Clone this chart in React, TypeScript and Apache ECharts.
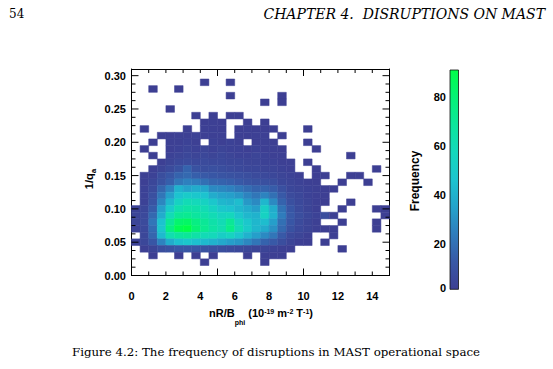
import { useEffect, useRef } from 'react';
import * as echarts from 'echarts';

// ---- bins ----
const X_BIN = 0.5;
const Y_BIN = 0.01;
const X_RANGE = [0, 15];
const Y_RANGE = [0, 0.31];
const xBinCentres = [
  0.25, 0.75, 1.25, 1.75, 2.25, 2.75, 3.25, 3.75, 4.25, 4.75,
  5.25, 5.75, 6.25, 6.75, 7.25, 7.75, 8.25, 8.75, 9.25, 9.75,
  10.25, 10.75, 11.25, 11.75, 12.25, 12.75, 13.25, 13.75, 14.25, 14.75,
];
const yBinCentres = [
  0.29, 0.28, 0.27, 0.26, 0.25, 0.24, 0.23, 0.22, 0.21, 0.2,
  0.19, 0.18, 0.17, 0.16, 0.15, 0.14, 0.13, 0.12, 0.11, 0.1,
  0.09, 0.08, 0.07, 0.06, 0.05, 0.04, 0.03, 0.02,
];

// ---- frequency per (y row, x bin); one row per entry of yBinCentres ----
const frequency: number[][] = [
  [0,0,0,0,0,0,0,0,1,0, 0,1,0,0,0,0,0,0,0,0, 0,0,0,0,0,0,0,0,0,0], // 0.29
  [0,0,1,0,0,1,0,0,0,0, 0,0,0,0,0,0,0,0,0,0, 0,0,0,0,0,0,0,0,0,0], // 0.28
  [0,0,0,0,0,0,0,0,0,0, 0,1,0,0,0,0,0,1,0,0, 0,0,0,0,0,0,0,0,0,0], // 0.27
  [0,0,0,0,0,0,0,0,0,0, 0,0,0,0,0,1,0,1,0,0, 0,0,0,0,0,0,0,0,0,0], // 0.26
  [0,0,0,0,1,0,0,0,0,0, 0,0,0,0,0,0,0,0,0,0, 0,0,0,0,0,0,0,0,0,0], // 0.25
  [0,0,0,0,0,0,0,1,0,1, 0,1,1,0,0,0,0,0,0,0, 0,0,0,0,0,0,0,0,0,0], // 0.24
  [0,0,0,0,0,0,0,0,1,2, 1,0,0,1,0,1,0,0,0,0, 0,0,0,0,0,0,0,0,0,0], // 0.23
  [0,1,0,0,0,0,1,0,2,2, 1,0,1,2,1,1,1,0,0,0, 1,0,0,0,0,0,0,0,0,0], // 0.22
  [0,0,0,1,1,2,2,3,2,2, 2,0,2,1,2,2,0,1,0,0, 0,0,0,0,0,0,0,0,0,0], // 0.21
  [0,0,1,0,2,2,3,2,0,3, 2,3,2,0,1,2,1,0,0,0, 1,0,0,0,0,0,0,0,0,0], // 0.20
  [0,1,0,0,2,3,4,3,4,3, 4,3,3,2,3,2,2,1,0,0, 0,1,0,0,0,0,0,0,0,0], // 0.19
  [0,0,1,0,3,4,5,4,5,4, 5,4,3,3,4,3,2,2,0,0, 0,0,0,0,0,1,0,0,0,0], // 0.18
  [0,0,0,2,4,6,7,6,7,6, 6,5,5,4,4,3,3,2,2,0, 1,0,0,0,0,0,0,0,0,0], // 0.17
  [0,0,2,4,7,10,16,10,8,9, 8,7,6,5,5,4,4,3,2,0, 0,1,0,0,0,0,0,0,1,0], // 0.16
  [0,2,3,8,12,16,18,15,13,12, 11,10,9,8,7,6,5,4,3,2, 0,1,1,0,0,1,1,0,0,0], // 0.15
  [0,2,5,10,15,22,25,24,20,17, 16,15,13,11,10,9,8,5,4,3, 2,1,0,0,1,0,0,1,0,0], // 0.14
  [0,3,7,17,26,40,35,38,36,28, 27,25,22,19,16,16,14,9,5,4, 3,2,1,1,0,0,0,0,0,0], // 0.13
  [0,3,9,22,34,46,50,48,46,38, 35,34,31,26,22,26,20,13,7,5, 3,2,1,0,0,0,0,0,0,0], // 0.12
  [0,3,11,27,42,54,60,58,54,48, 42,40,44,32,28,42,28,16,9,6, 4,2,1,0,0,1,0,0,0,0], // 0.11
  [3,5,14,34,50,62,66,64,60,54, 48,46,42,38,34,52,38,21,12,7, 4,2,0,0,1,0,0,0,1,1], // 0.10
  [4,6,18,38,60,70,72,68,64,60, 55,57,48,42,40,54,40,24,13,8, 5,3,8,2,0,0,0,0,0,1], // 0.09
  [4,7,22,46,70,82,84,76,70,64, 60,70,56,48,42,44,34,20,12,7, 4,2,0,0,1,0,0,0,1,0], // 0.08
  [3,6,19,48,76,88,91,80,72,66, 62,74,60,50,42,38,30,18,10,6, 4,2,1,1,0,0,0,0,1,0], // 0.07
  [0,5,17,43,62,68,70,65,60,58, 52,55,48,40,34,28,22,13,6,4, 2,0,0,1,0,0,0,0,0,0], // 0.06
  [3,5,12,26,38,45,48,45,43,40, 37,34,32,27,22,16,13,8,4,2, 1,0,1,0,0,0,0,0,0,0], // 0.05
  [0,2,4,8,10,12,12,12,10,9, 8,7,6,5,4,4,3,2,1,0, 0,0,0,0,1,0,0,0,0,0], // 0.04
  [0,0,1,0,0,1,0,1,0,1, 0,0,0,1,0,2,1,1,0,0, 0,0,0,0,0,0,0,0,0,0], // 0.03
  [0,0,0,0,0,0,0,0,1,0, 0,0,0,0,0,1,0,0,0,0, 0,0,0,0,0,0,0,0,0,0], // 0.02
];

// ---- ticks / labels ----
const xTickLabels = ['0', '2', '4', '6', '8', '10', '12', '14'];
const yTickLabels = ['0.00', '0.05', '0.10', '0.15', '0.20', '0.25', '0.30'];
const colorbarTickLabels = ['0', '20', '40', '60', '80'];
const xMajorTicks = [0, 5, 10, 15];
const xMinorTicks = [1, 2, 3, 4, 6, 7, 8, 9, 11, 12, 13, 14];
const yMajorTicks = [0, 0.05, 0.1, 0.15, 0.2, 0.25, 0.3];
const yMinorTicks = [
  0.0125, 0.025, 0.0375, 0.0625, 0.075, 0.0875, 0.1125, 0.125, 0.1375,
  0.1625, 0.175, 0.1875, 0.2125, 0.225, 0.2375, 0.2625, 0.275, 0.2875,
];
const colourRange = [1.5, 91];
const colourMap = [
  '#3d3f93', '#3858a6', '#2f7cbc', '#24a3cb', '#1cc4cf',
  '#14d8bc', '#0ce69c', '#05f276', '#00ff48',
];

const SANS = '"Liberation Sans", Arial, Helvetica, sans-serif';
const SERIF = '"DejaVu Serif", "Liberation Serif", serif';

const base = { fontWeight: 'bold', fontFamily: SANS, color: '#000', verticalAlign: 'middle' };
const richStyles = {
  m: { ...base, fontSize: 11 },
  sup: { ...base, fontSize: 7, padding: [0, 0, 4, 0] },
  sub: { ...base, fontSize: 7, padding: [18, 0, 0, 0] },
  suba: { ...base, fontSize: 8, padding: [8, 0, 0, 0] },
};

const lineAxis = (pos: string, min: number, max: number, interval: number, extra: any = {}) => ({
  type: 'value', gridIndex: 0, position: pos, min, max, interval,
  axisLine: { show: true, onZero: false, lineStyle: { color: '#000', width: 1 } },
  axisTick: { show: false },
  axisLabel: { show: false },
  splitLine: { show: false },
  ...extra,
});

export default function App() {
  const ref = useRef<HTMLDivElement>(null);
  useEffect(() => {
    if (!ref.current) return;
    const chart = echarts.init(ref.current, undefined, { renderer: 'svg' });

    const cells: number[][] = [];
    frequency.forEach((row, r) => {
      row.forEach((v, c) => {
        if (v > 0) cells.push([xBinCentres[c], yBinCentres[r], v]);
      });
    });
    // tick marks: [kind, value]; kind 0 x-major, 1 x-minor, 2 y-major, 3 y-minor
    const ticks: number[][] = [
      ...xMajorTicks.map((v) => [0, v]),
      ...xMinorTicks.map((v) => [1, v]),
      ...yMajorTicks.map((v) => [2, v]),
      ...yMinorTicks.map((v) => [3, v]),
    ];
    const tickLen = [7, 4, 7, 4];

    const labelStyle = { color: '#000', fontSize: 11, fontWeight: 'bold', fontFamily: SANS };

    const option: any = {
      animation: false,
      backgroundColor: '#ffffff',
      grid: [
        { left: 131.5, top: 69, width: 258, height: 206.5, show: false },
        { left: 450, top: 70, width: 8.5, height: 223, show: false },
      ],
      xAxis: [
        lineAxis('bottom', X_RANGE[0], X_RANGE[1], 2, {
          axisLabel: {
            show: true, margin: 15, ...labelStyle,
            formatter: (v: number) => (xTickLabels.includes(String(v)) ? String(v) : ''),
          },
        }),
        lineAxis('top', X_RANGE[0], X_RANGE[1], 5),
        { type: 'value', gridIndex: 1, min: 0, max: 1, show: false },
      ],
      yAxis: [
        lineAxis('left', Y_RANGE[0], Y_RANGE[1], 0.05, {
          axisLabel: {
            show: true, margin: 5.5, ...labelStyle,
            formatter: (v: number) => {
              const s = v.toFixed(2);
              return yTickLabels.includes(s) && Math.abs(v - parseFloat(s)) < 1e-9 ? s : '';
            },
          },
        }),
        lineAxis('right', Y_RANGE[0], Y_RANGE[1], 0.05),
        {
          type: 'value', gridIndex: 1, position: 'left', min: 0, max: 91, interval: 20,
          axisLine: { show: false }, axisTick: { show: false }, splitLine: { show: false },
          axisLabel: {
            show: true, margin: 4, ...labelStyle, verticalAlignMinLabel: 'bottom',
            formatter: (v: number) => (colorbarTickLabels.includes(String(v)) ? String(v) : ''),
          },
        },
      ],
      visualMap: {
        show: false, type: 'continuous', min: colourRange[0], max: colourRange[1],
        dimension: 2, seriesIndex: 0, inRange: { color: colourMap },
      },
      series: [
        {
          type: 'custom', xAxisIndex: 0, yAxisIndex: 0, data: cells, z: 2,
          renderItem: (_p: any, api: any) => {
            const xc = api.value(0), yc = api.value(1);
            const tl = api.coord([xc - X_BIN / 2, yc + Y_BIN / 2]);
            const br = api.coord([xc + X_BIN / 2, yc - Y_BIN / 2]);
            const color = api.visual('color');
            return {
              type: 'rect',
              shape: { x: tl[0], y: tl[1], width: br[0] - tl[0], height: br[1] - tl[1] },
              style: { fill: color, stroke: color, lineWidth: 0.5 },
            };
          },
        },
        {
          type: 'custom', xAxisIndex: 0, yAxisIndex: 0, data: ticks, z: 5, silent: true,
          encode: { x: 1, y: 1 },
          renderItem: (_p: any, api: any) => {
            const kind = api.value(0), v = api.value(1);
            const len = tickLen[kind];
            const st = { fill: '#000' };
            if (kind < 2) {
              const b = api.coord([v, Y_RANGE[0]]);
              const t = api.coord([v, Y_RANGE[1]]);
              return {
                type: 'group',
                children: [
                  { type: 'rect', shape: { x: b[0] - 0.5, y: b[1] - len, width: 1, height: len }, style: st },
                  { type: 'rect', shape: { x: t[0] - 0.5, y: t[1], width: 1, height: len }, style: st },
                ],
              };
            }
            const l = api.coord([X_RANGE[0], v]);
            const r = api.coord([X_RANGE[1], v]);
            return {
              type: 'group',
              children: [
                { type: 'rect', shape: { x: l[0], y: l[1] - 0.5, width: len, height: 1 }, style: st },
                { type: 'rect', shape: { x: r[0] - len, y: r[1] - 0.5, width: len, height: 1 }, style: st },
              ],
            };
          },
        },
        {
          type: 'custom', xAxisIndex: 2, yAxisIndex: 2, silent: true,
          data: [[0, colourRange[0], colourRange[1]]],
          encode: { x: 0, y: 2 },
          renderItem: (_p: any, api: any) => {
            const tl = api.coord([0, api.value(2)]);
            const br = api.coord([1, api.value(1)]);
            return {
              type: 'rect',
              shape: { x: tl[0], y: tl[1], width: br[0] - tl[0], height: br[1] - tl[1] },
              style: {
                fill: new echarts.graphic.LinearGradient(0, 1, 0, 0,
                  colourMap.map((c, i) => ({ offset: i / (colourMap.length - 1), color: c }))),
                stroke: '#111', lineWidth: 0.8,
              },
            };
          },
        },
      ],
      graphic: [
        { type: 'text', x: 9, y: 14, style: { text: '54', font: `12px ${SERIF}`, fill: '#000', verticalAlign: 'middle' } },
        { type: 'text', x: 545, y: 14, style: { text: 'CHAPTER 4.  DISRUPTIONS ON MAST', font: `italic 14px ${SERIF}`, fill: '#000', align: 'right', verticalAlign: 'middle' } },
        { type: 'text', x: 276, y: 352, style: { text: 'Figure 4.2: The frequency of disruptions in MAST operational space', font: `11.8px ${SERIF}`, fill: '#000', align: 'center', verticalAlign: 'middle' } },
        {
          type: 'text', x: 261, y: 313,
          style: {
            text: '{m|nR/B}{sub|phi}{m| (10}{sup|-19}{m| m}{sup|-2}{m| T}{sup|-1}{m|)}',
            rich: richStyles, align: 'center', verticalAlign: 'middle',
          },
        },
        {
          type: 'text', x: 89, y: 179, rotation: Math.PI / 2,
          style: { text: '{m|1/q}{suba|a}', rich: richStyles, align: 'center', verticalAlign: 'middle' },
        },
        {
          type: 'text', x: 415, y: 181, rotation: Math.PI / 2,
          style: { text: 'Frequency', font: `bold 12px ${SANS}`, fill: '#000', align: 'center', verticalAlign: 'middle' },
        },
      ],
    };
    chart.setOption(option);
    return () => chart.dispose();
  }, []);
  return <div ref={ref} style={{ position: 'fixed', left: 0, top: 0, width: 553, height: 369 }} />;
}
